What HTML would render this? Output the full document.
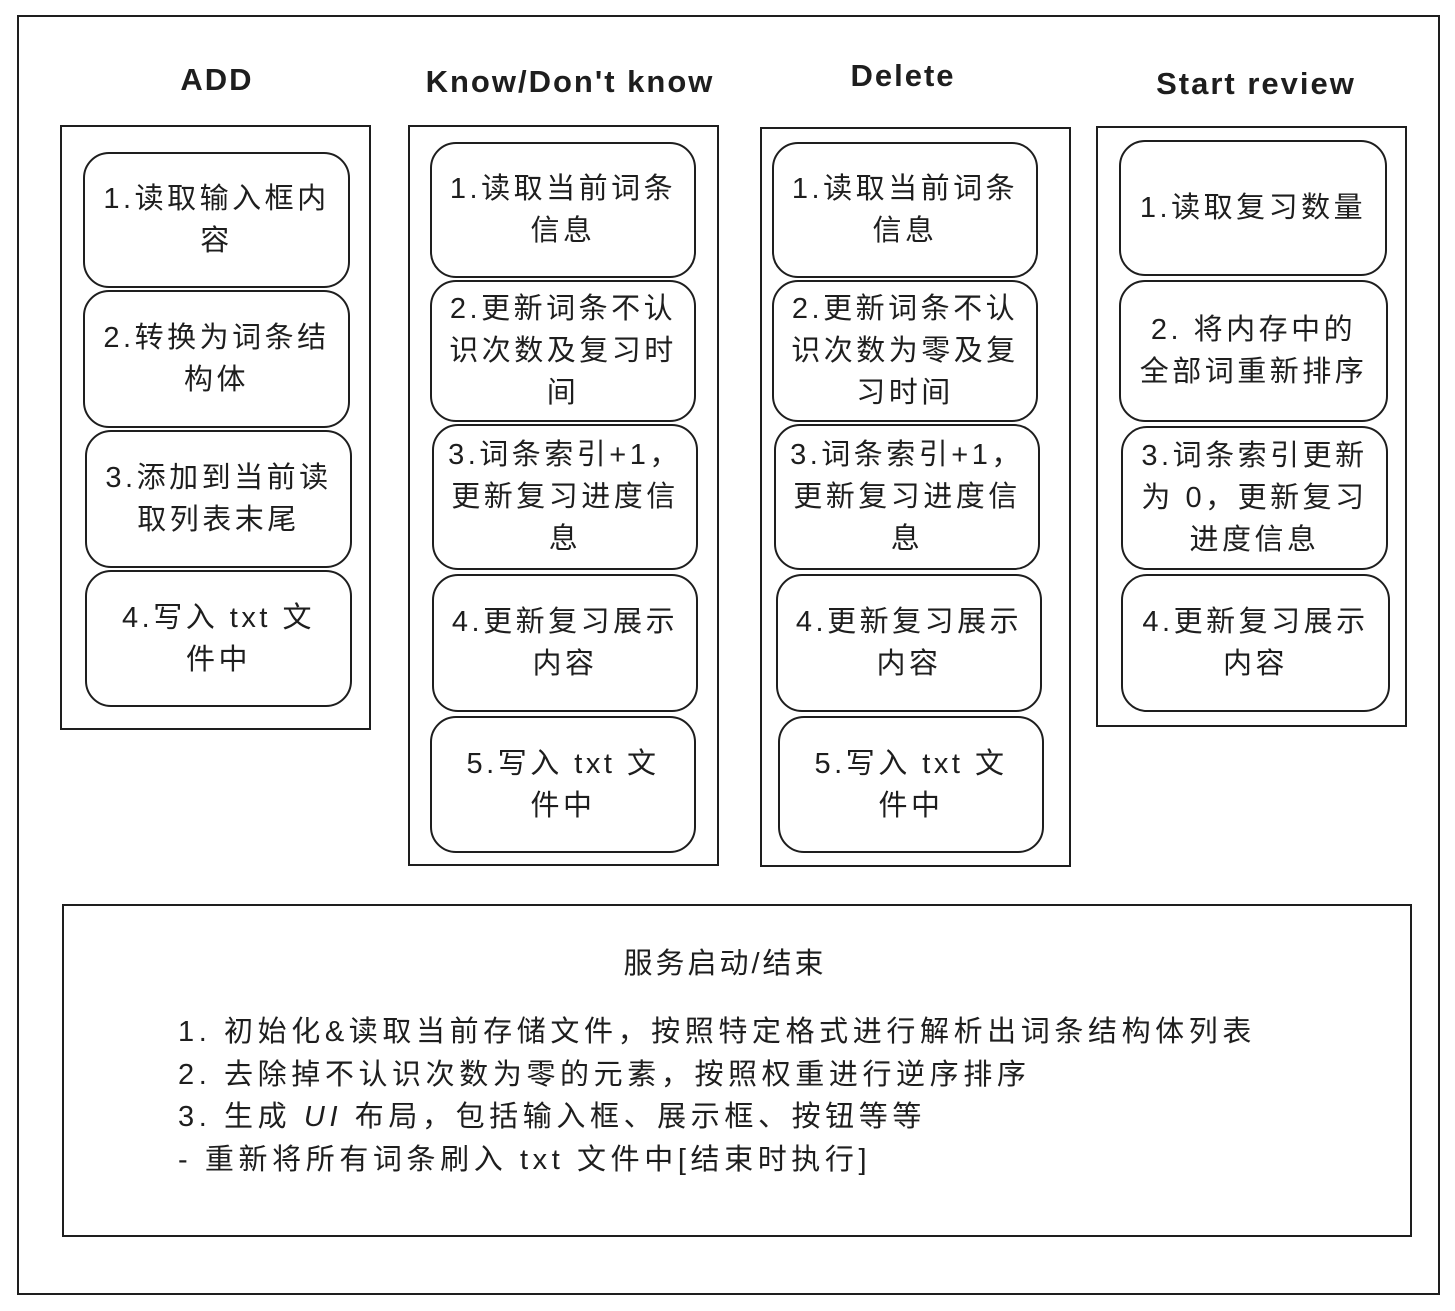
<!DOCTYPE html>
<html><head><meta charset="utf-8"><style>
*{margin:0;padding:0;box-sizing:border-box}
body{width:1455px;height:1311px;background:#fff;position:relative;overflow:hidden;font-family:"Liberation Sans","Noto Sans CJK SC",sans-serif;color:#1e1e1e}
.a{position:absolute}
.outer{left:17px;top:15px;width:1423px;height:1280px;border:2.5px solid #1e1e1e}
.frame{border:2.5px solid #1e1e1e}
.box{position:absolute;border:2.5px solid #1e1e1e;border-radius:26px;display:flex;align-items:center;justify-content:center;text-align:center;font-size:29px;line-height:42px;padding:0;letter-spacing:3.5px;white-space:nowrap}
.t{position:absolute;font-size:31px;text-align:center;width:360px;letter-spacing:2px;font-weight:bold}
.bl{position:absolute;left:178px;font-size:29px;letter-spacing:4.6px;white-space:nowrap}
</style></head><body>
<div class="a outer"></div>
<div class="t" style="left:37px;top:62px">ADD</div>
<div class="t" style="left:390px;top:64px">Know/Don't know</div>
<div class="t" style="left:723px;top:58px">Delete</div>
<div class="t" style="left:1076px;top:66px">Start review</div>

<div class="a frame" style="left:60px;top:125px;width:311px;height:605px"></div>
<div class="a frame" style="left:408px;top:125px;width:311px;height:741px"></div>
<div class="a frame" style="left:760px;top:127px;width:311px;height:740px"></div>
<div class="a frame" style="left:1096px;top:126px;width:311px;height:601px"></div>

<div class="box" style="left:83px;top:152px;width:267px;height:136px">1.读取输入框内<br>容</div>
<div class="box" style="left:83px;top:290px;width:267px;height:138px">2.转换为词条结<br>构体</div>
<div class="box" style="left:85px;top:430px;width:267px;height:138px">3.添加到当前读<br>取列表末尾</div>
<div class="box" style="left:85px;top:570px;width:267px;height:137px">4.写入 txt 文<br>件中</div>

<div class="box" style="left:430px;top:142px;width:266px;height:136px">1.读取当前词条<br>信息</div>
<div class="box" style="left:430px;top:280px;width:266px;height:142px">2.更新词条不认<br>识次数及复习时<br>间</div>
<div class="box" style="left:432px;top:424px;width:266px;height:146px">3.词条索引+1，<br>更新复习进度信<br>息</div>
<div class="box" style="left:432px;top:574px;width:266px;height:138px">4.更新复习展示<br>内容</div>
<div class="box" style="left:430px;top:716px;width:266px;height:137px">5.写入 txt 文<br>件中</div>

<div class="box" style="left:772px;top:142px;width:266px;height:136px">1.读取当前词条<br>信息</div>
<div class="box" style="left:772px;top:280px;width:266px;height:142px">2.更新词条不认<br>识次数为零及复<br>习时间</div>
<div class="box" style="left:774px;top:424px;width:266px;height:146px">3.词条索引+1，<br>更新复习进度信<br>息</div>
<div class="box" style="left:776px;top:574px;width:266px;height:138px">4.更新复习展示<br>内容</div>
<div class="box" style="left:778px;top:716px;width:266px;height:137px">5.写入 txt 文<br>件中</div>

<div class="box" style="left:1119px;top:140px;width:268px;height:136px">1.读取复习数量</div>
<div class="box" style="left:1119px;top:280px;width:269px;height:142px">2. 将内存中的<br>全部词重新排序</div>
<div class="box" style="left:1121px;top:426px;width:267px;height:144px">3.词条索引更新<br>为 0，更新复习<br>进度信息</div>
<div class="box" style="left:1121px;top:574px;width:269px;height:138px">4.更新复习展示<br>内容</div>

<div class="a frame" style="left:62px;top:904px;width:1350px;height:333px"></div>
<div class="a" style="left:62px;top:940px;width:1326px;text-align:center;font-size:29px;letter-spacing:3px">服务启动/结束</div>
<div class="bl" style="top:1008px">1. 初始化&amp;读取当前存储文件，按照特定格式进行解析出词条结构体列表</div>
<div class="bl" style="top:1051px">2. 去除掉不认识次数为零的元素，按照权重进行逆序排序</div>
<div class="bl" style="top:1093px">3. 生成 <i>UI</i> 布局，包括输入框、展示框、按钮等等</div>
<div class="bl" style="top:1136px">- 重新将所有词条刷入 txt 文件中[结束时执行]</div>
</body></html>
